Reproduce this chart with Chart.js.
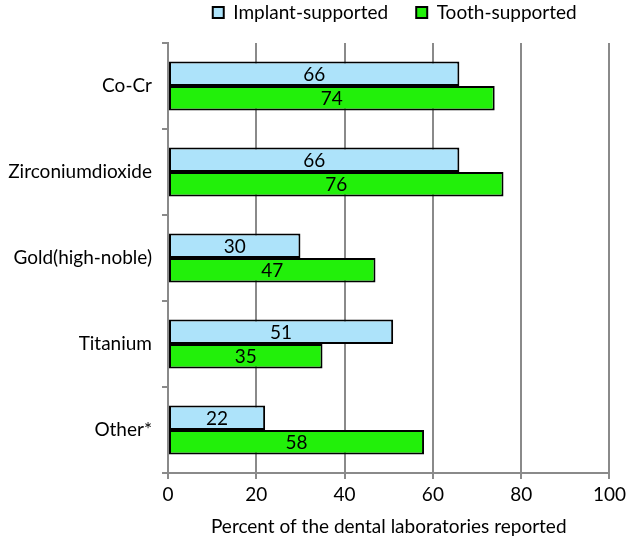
<!DOCTYPE html>
<html>
<head>
<meta charset="utf-8">
<script src="https://cdn.jsdelivr.net/npm/chart.js@4"></script>
<style>
  html, body { margin: 0; padding: 0; background: #fff; }
  #wrap { width: 630px; height: 542px; }
</style>
</head>
<body>
<div id="wrap"><canvas id="chart" width="630" height="542"></canvas></div>
<script>
// Chart data
const categories = ['Co-Cr', 'Zirconiumdioxide', 'Gold(high-noble)', 'Titanium', 'Other*'];
const implantSupported = [66, 66, 30, 51, 22];
const toothSupported = [74, 76, 47, 35, 58];
const xTicks = [0, 20, 40, 60, 80, 100];

const FONT = 'Lato, "Open Sans", sans-serif';
const FONT_SIZE = 19;

// Draw the value in the middle of each bar
const barValueLabels = {
  id: 'barValueLabels',
  afterDatasetsDraw(chart) {
    const ctx = chart.ctx;
    ctx.save();
    ctx.fillStyle = '#000';
    ctx.font = FONT_SIZE + 'px ' + FONT;
    ctx.textAlign = 'center';
    ctx.textBaseline = 'middle';
    chart.data.datasets.forEach(function(ds, i) {
      const meta = chart.getDatasetMeta(i);
      meta.data.forEach(function(bar, j) {
        const cx = (bar.x + bar.base) / 2;
        ctx.fillText(ds.data[j], cx, bar.y + 1);
      });
    });
    ctx.restore();
  }
};

// Centre the legend over the plot area and pull it up to the top edge
const legendOverPlot = {
  id: 'legendOverPlot',
  afterLayout(chart) {
    if (chart.legend) {
      chart.legend.left = chart.chartArea.left + 12;
      chart.legend.right = chart.chartArea.right;
      chart.legend.top -= 11;
    }
  }
};

const ctx = document.getElementById('chart').getContext('2d');
new Chart(ctx, {
  type: 'bar',
  data: {
    labels: categories,
    datasets: [{
      label: 'Implant-supported',
      data: implantSupported,
      backgroundColor: '#ade3fa',
      borderColor: '#000',
      borderWidth: 2,
      borderSkipped: false
    }, {
      label: 'Tooth-supported',
      data: toothSupported,
      backgroundColor: '#22f00a',
      borderColor: '#000',
      borderWidth: 2,
      borderSkipped: false
    }]
  },
  options: {
    indexAxis: 'y',
    responsive: false,
    animation: false,
    datasets: {
      bar: { categoryPercentage: 0.57, barPercentage: 1 }
    },
    layout: { padding: { top: -14, right: 17, bottom: 0, left: 0 } },
    scales: {
      x: {
        min: 0,
        max: 100,
        afterBuildTicks: function(scale) {
          scale.ticks = xTicks.map(v => ({ value: v }));
        },
        afterFit: function(scale) {
          scale.height = 69;
        },
        grid: {
          color: '#8a8a8a',
          lineWidth: 2,
          tickLength: 6,
          drawOnChartArea: true
        },
        border: { color: '#8a8a8a', width: 2 },
        ticks: {
          color: '#000',
          font: { family: FONT, size: FONT_SIZE },
          padding: 4
        },
        title: {
          display: true,
          text: 'Percent of the dental laboratories reported',
          color: '#000',
          font: { family: FONT, size: FONT_SIZE },
          padding: { top: 4, bottom: 4 }
        }
      },
      y: {
        grid: {
          offset: true,
          drawOnChartArea: false,
          color: '#8a8a8a',
          lineWidth: 2,
          tickLength: 6
        },
        border: { color: '#8a8a8a', width: 2 },
        ticks: {
          color: '#000',
          font: { family: FONT, size: FONT_SIZE },
          padding: 10
        },
        afterFit: function(scale) {
          scale.width = 168;
        }
      }
    },
    plugins: {
      legend: {
        position: 'top',
        labels: {
          color: '#000',
          font: { family: FONT, size: FONT_SIZE },
          boxWidth: 11,
          boxHeight: 11,
          padding: 28
        }
      },
      tooltip: { enabled: false }
    }
  },
  plugins: [barValueLabels, legendOverPlot]
});
</script>
</body>
</html>
